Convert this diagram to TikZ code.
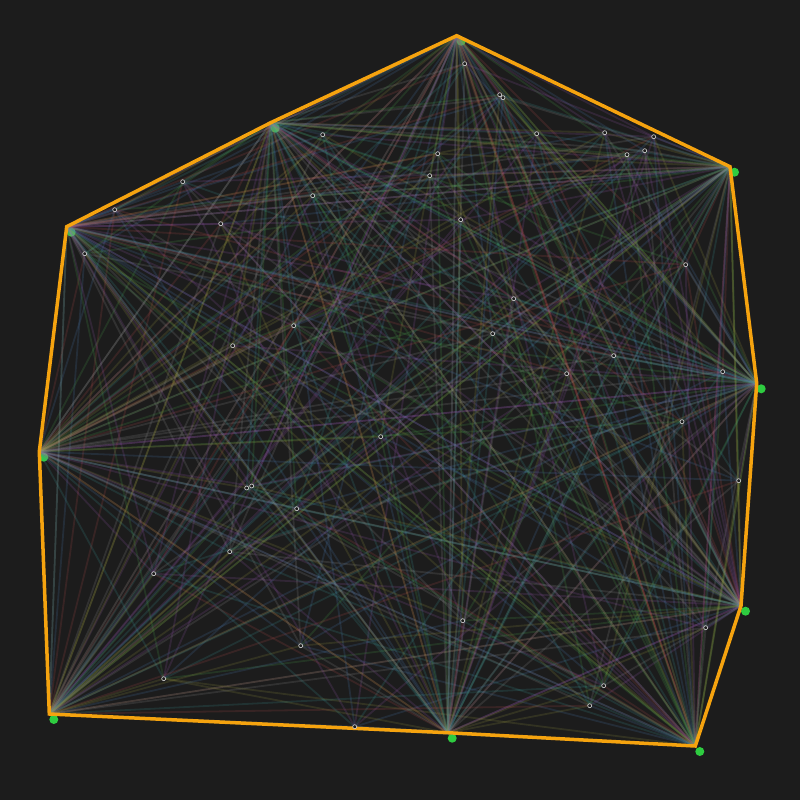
\documentclass[tikz,border=0pt]{standalone}
\definecolor{bg}{HTML}{1C1C1C}
\definecolor{hullc}{HTML}{F5A30F}
\definecolor{dotc}{HTML}{2ECC40}
\definecolor{c1}{HTML}{9B59B6}
\definecolor{c2}{HTML}{4CAF50}
\definecolor{c3}{HTML}{C0504D}
\definecolor{c4}{HTML}{4F81BD}
\definecolor{c5}{HTML}{A0A040}
\definecolor{c6}{HTML}{9A9A9A}
\definecolor{c7}{HTML}{3FA0A0}
\begin{document}
\begin{tikzpicture}[x=1pt,y=-1pt,
    cand/.style={line width=1.8pt,draw opacity=0.17},
    hull/.style={draw=hullc,line width=3.5pt,line join=miter},
    pt/.style={draw=white!85!black,fill=bg,line width=0.6pt},
    hpt/.style={fill=dotc}]
  \fill[bg] (0,0) rectangle (800,800);
  \useasboundingbox (0,0) rectangle (800,800);
  \path
    (456.7,35.7) coordinate (0)
    (730.0,166.7) coordinate (1)
    (756.7,383.3) coordinate (2)
    (741.0,605.7) coordinate (3)
    (695.3,746.0) coordinate (4)
    (447.7,732.7) coordinate (5)
    (49.3,714.0) coordinate (6)
    (39.3,451.7) coordinate (7)
    (66.7,226.7) coordinate (8)
    (270.7,122.7) coordinate (9)
    (464.7,63.7) coordinate (10)
    (499.7,94.7) coordinate (11)
    (503.0,97.7) coordinate (12)
    (322.7,134.7) coordinate (13)
    (536.7,133.7) coordinate (14)
    (604.7,132.7) coordinate (15)
    (653.7,136.7) coordinate (16)
    (627.0,154.7) coordinate (17)
    (644.7,150.7) coordinate (18)
    (437.7,153.7) coordinate (19)
    (429.7,175.7) coordinate (20)
    (182.7,181.7) coordinate (21)
    (312.7,195.7) coordinate (22)
    (114.7,209.7) coordinate (23)
    (220.7,223.7) coordinate (24)
    (460.7,219.7) coordinate (25)
    (84.7,253.7) coordinate (26)
    (685.7,264.7) coordinate (27)
    (513.7,298.7) coordinate (28)
    (293.7,325.7) coordinate (29)
    (492.7,333.7) coordinate (30)
    (232.7,345.7) coordinate (31)
    (613.7,355.7) coordinate (32)
    (566.7,373.7) coordinate (33)
    (722.7,371.7) coordinate (34)
    (682.0,421.7) coordinate (35)
    (380.7,436.7) coordinate (36)
    (738.7,480.7) coordinate (37)
    (246.7,488.0) coordinate (38)
    (251.7,486.0) coordinate (39)
    (296.7,508.7) coordinate (40)
    (229.7,551.7) coordinate (41)
    (153.7,573.7) coordinate (42)
    (462.7,620.7) coordinate (43)
    (705.7,627.7) coordinate (44)
    (300.7,645.7) coordinate (45)
    (603.7,685.7) coordinate (46)
    (163.7,678.7) coordinate (47)
    (589.7,705.7) coordinate (48)
    (354.7,726.7) coordinate (49);
  % hull points
  \foreach \i in {0,...,9}
    \fill[hpt] (\i) ++(4.5,5.5) circle (4.5);
  % candidate edges
  \pgfmathsetseed{11}
  \foreach \i in {0,...,9}
    \foreach \j in {0,...,49}{
      \ifnum\i=\j\else
        \pgfmathrandominteger{\c}{1}{7}
        \draw[cand,draw=c\c] (\i) -- (\j);
      \fi
    }
  % hull
  \draw[hull] (0) -- (1) -- (2) -- (3) -- (4) -- (5) -- (6) -- (7) -- (8) -- (9) -- cycle;
  \foreach \k in {10,...,49}
    \draw[pt] (\k) circle (2);
\end{tikzpicture}
\end{document}
